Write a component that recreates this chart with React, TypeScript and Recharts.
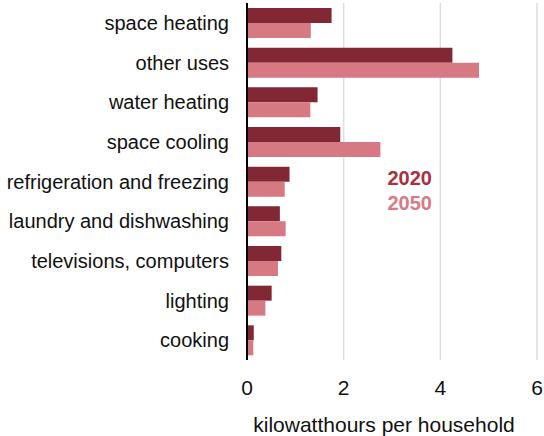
import { Bar, BarChart, CartesianGrid, Legend, XAxis, YAxis } from "recharts";

const categories = [
  "space heating",
  "other uses",
  "water heating",
  "space cooling",
  "refrigeration and freezing",
  "laundry and dishwashing",
  "televisions, computers",
  "lighting",
  "cooking",
];

const values2020 = [1.75, 4.25, 1.46, 1.93, 0.88, 0.68, 0.71, 0.51, 0.14];
const values2050 = [1.32, 4.8, 1.31, 2.76, 0.78, 0.8, 0.64, 0.38, 0.13];

const xTicks = [0, 2, 4, 6];

const data = categories.map((name, i) => ({
  name,
  y2020: values2020[i],
  y2050: values2050[i],
}));

const fontFamily = "'Liberation Sans', Arial, sans-serif";

const yTickStyle = { fill: "#111", fontSize: 20, fontFamily };
const xTickStyle = { fill: "#111", fontSize: 21, fontFamily };

function YearLegend() {
  return (
    <div
      style={{
        fontFamily,
        fontWeight: 700,
        fontSize: 20,
        lineHeight: "25px",
        textAlign: "right",
      }}
    >
      <div style={{ color: "#a8303f" }}>2020</div>
      <div style={{ color: "#d87a85" }}>2050</div>
    </div>
  );
}

export default function App() {
  return (
    <div style={{ position: "absolute", left: 0, top: 0 }}>
      <BarChart
        width={544}
        height={436}
        data={data}
        layout="vertical"
        margin={{ top: 3, right: 7, bottom: 0, left: 0 }}
        barCategoryGap={5}
        barGap={0}
      >
        <CartesianGrid horizontal={false} stroke="#dedede" strokeWidth={1.5} />
        <XAxis
          type="number"
          domain={[0, 6]}
          ticks={xTicks}
          height={76}
          axisLine={false}
          tickLine={false}
          tickSize={0}
          tickMargin={20}
          tick={xTickStyle}
          label={{
            value: "kilowatthours per household",
            position: "insideBottom",
            offset: 4,
            dx: -8,
            fill: "#111",
            fontSize: 21,
            fontFamily,
          }}
        />
        <YAxis
          type="category"
          dataKey="name"
          width={247}
          axisLine={{ stroke: "#000", strokeWidth: 2 }}
          tickLine={false}
          tickSize={0}
          tickMargin={18}
          tick={yTickStyle}
          interval={0}
        />
        <Legend
          verticalAlign="middle"
          content={<YearLegend />}
          wrapperStyle={{ left: 380, top: 166, width: 52 }}
        />
        <Bar dataKey="y2020" name="2020" fill="#822834" isAnimationActive={false} />
        <Bar dataKey="y2050" name="2050" fill="#d77982" isAnimationActive={false} />
      </BarChart>
    </div>
  );
}
